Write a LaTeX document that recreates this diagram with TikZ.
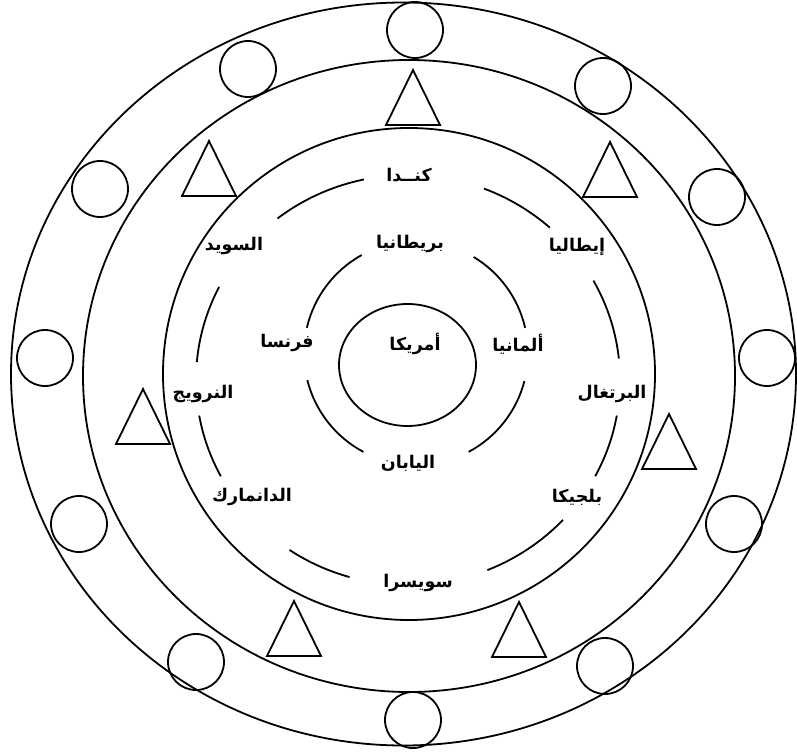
\documentclass[tikz,border=0pt]{standalone}
\usepackage{fontspec}
\newfontfamily\arabicfont[Script=Arabic]{DejaVu Sans Bold}
\TeXXeTstate=1
\begin{document}
\begin{tikzpicture}[x=1pt, y=-1pt, line width=1.8pt, line join=miter,
  every node/.style={font=\arabicfont\fontsize{17.5}{21}\selectfont, inner sep=1pt}]
  % concentric rings of countries
  \useasboundingbox (0,0) rectangle (797,754);
  \draw (403.5,374) ellipse [x radius=392.5, y radius=371.5];
  \draw (409,376) ellipse [x radius=326, y radius=316];
  \draw (409,374) circle [radius=246];
  \draw (407.5,365) ellipse [x radius=68.5, y radius=61];
  % circles on the outer band
  \foreach \x/\y in {415/30, 248/69, 603/86, 100/189, 717/197, 45/358,
                     767/358, 79/524, 734/524, 196/662, 605/666, 413/720} {
    \draw (\x,\y) circle [radius=28];
  }
  % triangles on the middle band
  \foreach \x/\y in {413/70, 209/141, 610/142, 143/389, 669/414, 294/601, 519/602} {
    \draw (\x,\y) -- (\x+27,\y+55) -- (\x-27,\y+55) -- cycle;
  }
  % labels
  \node (canada)      at (409,175) {\beginR كنــدا\endR};
  \node (britain)     at (410,244) {\beginR بريطانيا\endR};
  \node (sweden)      at (234,246) {\beginR السويد\endR};
  \node (italy)       at (577,247) {\beginR إيطاليا\endR};
  \node (france)      at (287,343) {\beginR فرنسا\endR};
  \node (america)     at (415,344) {\beginR أمريكا\endR};
  \node (germany)     at (518,344) {\beginR ألمانيا\endR};
  \node (norway)      at (203,394) {\beginR النرويج\endR};
  \node (portugal)    at (612,394) {\beginR البرتغال\endR};
  \node (japan)       at (408,463) {\beginR اليابان\endR};
  \node (denmark)     at (252,497) {\beginR الدانمارك\endR};
  \node (belgium)     at (577,497) {\beginR بلجيكا\endR};
  \node (switzerland) at (418,583) {\beginR سويسرا\endR};
  % broken rings between the labels
  \coordinate (inner) at (416,353);
  \foreach \a/\b in {-119/-167, -13/-59, -194/-242, 62/14.5}
    \draw (inner) ++(\a:112) arc[start angle=\a, end angle=\b, radius=112];
  \coordinate (outer) at (408,380);
  \foreach \a/\b in {-102/-128, -48/-69, -153/-175, -190/-208,
                     -6/-29, 28/10, -236/-254, 68/43}
    \draw (outer) ++(\a:212 and 205) arc[start angle=\a, end angle=\b, x radius=212, y radius=205];
\end{tikzpicture}
\end{document}
